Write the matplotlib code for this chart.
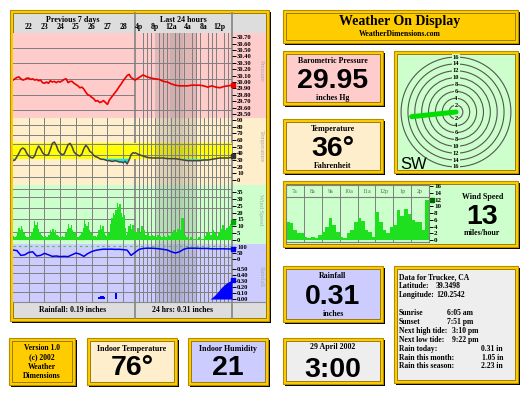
import matplotlib
matplotlib.use('Agg')
import matplotlib.pyplot as plt
from matplotlib.patches import Rectangle, Circle
import numpy as np

plt.rcParams['font.family'] = ['Liberation Serif', 'DejaVu Serif']
plt.rcParams['font.weight'] = 'bold'

W, H = 527, 395
SANS = 'Liberation Sans'

# ---------------- data ----------------
# previous 7 days, x = day of April 2002
days_3h = np.arange(21.0, 28.76, 0.125)
days_2h = np.arange(21.0, 28.7, 1 / 12)
days_6h = np.arange(21.0, 28.76, 0.25)
day_labels = [22, 23, 24, 25, 26, 27, 28]

pressure_7d = [30.03, 30.05, 30.07, 30.08, 30.05, 30.03, 30.04, 30.06,
               30.06, 30.04, 30.05, 30.03, 30.04, 30.02, 30.03, 29.99,
               29.98, 30.00, 29.98, 30.02, 30.00, 30.01, 29.99, 30.01,
               30.00, 30.02, 30.04, 30.05, 29.99, 30.01, 30.01, 29.98,
               29.96, 29.94, 29.91, 29.92, 29.89, 29.84, 29.80, 29.79,
               29.76, 29.74, 29.70, 29.71, 29.68, 29.69, 29.71, 29.68,
               29.65, 29.72, 29.76, 29.80, 29.84, 29.88, 29.93, 29.97,
               30.02, 30.06, 30.10, 30.12, 30.07, 30.05, 30.03]
temp_7d = [29, 30, 35, 40, 46, 48, 46, 40,
           36, 34, 33, 36, 45, 51, 47, 41,
           38, 37, 38, 46, 55, 57, 52, 44,
           40, 38, 39, 46, 53, 55, 50, 42,
           39, 37, 36, 39, 47, 52, 49, 43,
           41, 37, 35, 34, 32, 31, 31, 30,
           29, 29, 28, 28, 29, 28, 27, 27,
           26, 28, 24, 30, 38, 41, 40]
wind_7d = [3, 2, 3, 6, 9, 7, 10, 8, 5, 3, 2, 2,
           2, 3, 6, 9, 14, 11, 13, 8, 6, 4, 3, 2,
           3, 2, 2, 4, 7, 5, 8, 6, 7, 4, 3, 2,
           2, 3, 2, 2, 5, 8, 12, 9, 11, 7, 5, 6,
           3, 2, 3, 4, 6, 9, 15, 12, 10, 13, 7, 5,
           4, 3, 3, 2, 4, 7, 11, 8, 10, 6, 4, 3,
           5, 5, 12, 16, 20, 18, 22, 27, 24, 26, 20, 17,
           18, 9, 4, 6, 10, 12, 8, 11, 6]
humidity_7d = [75, 70, 30, 35, 55, 60, 25, 30, 47, 35, 22, 25, 20, 22, 20, 35,
               50, 40, 22, 45, 62, 72, 78, 82, 81, 82, 80, 81, 78, 74, 30, 55]
rain_7d_days = [26.375, 26.5, 26.625, 26.75, 27.5]
rain_7d = [0.04, 0.05, 0.05, 0.04, 0.10]

# last 24 hours, x = hours since 3 pm yesterday
hours_24 = np.arange(0, 25)
hours_half = np.arange(0, 24, 0.5)
hour_ticks = [1, 5, 9, 13, 17, 21]
hour_labels = ['4p', '8p', '12a', '4a', '8a', '12p']
sunset_h, sunrise_h = 4.85, 15.08

pressure_24h = [30.03, 30.07, 30.11, 30.08, 30.06, 30.05, 30.04, 30.01, 30.00,
                29.97, 29.95, 29.94, 29.94, 29.94, 29.95, 29.95, 29.95, 29.94,
                29.92, 29.94, 29.92, 29.91, 29.93, 29.94, 29.95]
temp_24h = [41, 38, 36, 34, 33, 33, 33, 33, 32, 32, 32, 31, 30, 29, 29, 29,
            29, 30, 30, 31, 32, 33, 33, 33, 34]
wind_24h = [6, 9, 5, 10, 7, 4, 5, 3, 4, 3, 2, 4, 3, 2, 3, 2, 4, 3,
            5, 7, 6, 8, 7, 16, 4, 2, 1, 2, 1, 1, 1, 2, 1, 1, 3, 5,
            6, 4, 7, 5, 3, 6, 8, 11, 7, 9, 10, 12]
humidity_24h = [55, 80, 88, 90, 90, 88, 85, 80, 75, 60, 50, 60, 80, 90, 90,
                90, 88, 88, 88, 85, 85, 85, 85, 84, 83]
rain_24h_hours = [18.5, 19, 19.5, 20, 20.5, 21, 21.5, 22, 22.5, 23, 23.5, 24]
rain_24h = [0, 0.02, 0.05, 0.08, 0.12, 0.16, 0.20, 0.23, 0.26, 0.28, 0.30, 0.31]

# last 8 hours of wind speed (small chart)
hours_8 = np.arange(0, 8, 0.2)
hour_labels_8 = ['7a', '8a', '9a', '10a', '11a', '12p', '1p', '2p']
wind_8h = [5.4, 5.0, 3, 2, 2, 1, 0.5, 0.8, 0.5, 1.5,
           2.5, 4, 6.5, 4.5, 2.5, 1, 0.5, 2, 3, 5.4,
           6.5, 5.5, 3, 2.5, 1, 8.3, 5.4, 3, 2, 4,
           4.5, 9, 7, 9.3, 7.7, 6, 5.4, 5.2, 3, 12]

# current readings
now_pressure = 29.95
now_temp = 36
now_wind = 13
now_humidity = 83
now_rain = 0.31
wind_angle = 186          # direction of the dial needle, degrees ccw from east
wind_compass = 'SW'
dial_rings = [2, 4, 6, 8, 10, 12, 14, 16]

info_rows = [('Data for Truckee, CA', '', 0, 'left'),
             ('Latitude:', '39.3498', 436, 'left'),
             ('Longitude:', '120.2542', 436, 'left'),
             ('', '', 0, 'left'),
             ('Sunrise', '6:05 am', 447, 'left'),
             ('Sunset', '7:51 pm', 447, 'left'),
             ('Next high tide:', '3:10 pm', 452, 'left'),
             ('Next low tide:', '9:22 pm', 452, 'left'),
             ('Rain today:', '0.31 in', 503, 'right'),
             ('Rain this month:', '1.05 in', 503, 'right'),
             ('Rain this season:', '2.23 in', 503, 'right')]

# ---------------- colours ----------------
GOLD = '#ffcc00'
PINK, BEIGE, GREEN, LAV = '#ffcccc', '#ffeecc', '#ccffcc', '#ccccff'
LIGHT = '#eeeeee'
GRID = '#7f7f7f'

fig = plt.figure(figsize=(W / 100, H / 100), dpi=100)
bg = fig.add_axes([0, 0, 1, 1])
bg.set_xlim(0, W)
bg.set_ylim(H, 0)
bg.axis('off')


def px_axes(x, y, w, h):
    return fig.add_axes([x / W, 1 - (y + h) / H, w / W, h / H])


def panel(x, y, w, h, face):
    bg.add_patch(Rectangle((x + 2, y + 2), w, h, color='black', lw=0))
    bg.add_patch(Rectangle((x, y), w, h, facecolor=GOLD, edgecolor='#b38f00', lw=0.8))
    bg.add_patch(Rectangle((x + 3, y + 3), w - 6, h - 6, facecolor=face,
                           edgecolor='#8a6d00', lw=0.6))


def label(x, y, s, size=5.7, ha='center', **kw):
    bg.text(x, y, s, ha=ha, va='center', fontsize=size, **kw)


def big(x, y, s, size=20.5):
    bg.text(x, y, s, ha='center', va='baseline', fontsize=size,
            family=SANS, weight='bold')


def chart_style(ax, xlim, ylim, xgrid, ygrid):
    ax.set_xlim(*xlim)
    ax.set_ylim(*ylim)
    ax.set_facecolor('none')
    for s in ax.spines.values():
        s.set_visible(False)
    ax.set_xticks(xgrid, minor=True)
    ax.set_yticks(ygrid, minor=True)
    ax.set_xticks([])
    ax.set_yticks([])
    ax.grid(True, which='minor', color=GRID, lw=0.7)
    ax.tick_params(which='minor', length=0)
    ax.set_axisbelow(True)


# ---------------- main history panel ----------------
panel(10, 10, 259, 311, '#dddddd')

sections = [
    ('Pressure', 33, 118, (29.4375, 30.766), PINK, [29.56, 29.80, 30.05, 30.29, 30.53],
     [round(29.5 + 0.1 * i, 2) for i in range(13)], '{:.2f}', now_pressure, '#ee0000'),
    ('Temperature', 118, 185, (-7.5, 93.0), BEIGE, [4, 22, 38, 54, 68, 83],
     list(range(0, 91, 10)), '{}', now_temp, '#333333'),
    ('Wind Speed', 185, 244, (-2.9, 40.1), GREEN, [6, 15, 23, 31, 37],
     list(range(0, 36, 5)), '{}', now_wind, '#00aa00'),
    ('', 244, 262, (-25, 125), LAV, [17], [0, 50, 100], '{}', now_humidity, '#0000ee'),
    ('Rainfall', 262, 302, (-0.05, 0.617), LAV, [0.12, 0.27, 0.43, 0.57],
     [0, 0.1, 0.2, 0.3, 0.4, 0.5], '{:.2f}', now_rain, '#0000ee'),
]

X_L, X_M, X_R = 13, 135, 232
axes_l, axes_r = [], []
for name, top, bot, ylim, color, ygrid, ticks, fmt, now, mcol in sections:
    bg.add_patch(Rectangle((13, top), 253, bot - top, color=color, lw=0))
    al = px_axes(X_L, top, X_M - X_L, bot - top)
    ar = px_axes(X_M, top, X_R - X_M, bot - top)
    chart_style(al, (21, 28.75), ylim, day_labels, ygrid)
    chart_style(ar, (0, 24), ylim, range(1, 24), ygrid)
    ar.axvspan(sunset_h, sunrise_h, color='#6f6f6f', alpha=0.22, lw=0, zorder=0.4)
    ar.axvspan(8.7, 11.9, color='#6f6f6f', alpha=0.12, lw=0, zorder=0.4)
    ar.yaxis.tick_right()
    ar.set_yticks(ticks, [fmt.format(t) for t in ticks])
    ar.tick_params(axis='y', which='major', right=True, left=False, length=3,
                   width=0.7, pad=0.6, labelsize=4.7)
    ar.plot([24.35], [now], marker='s', ms=2.4, color=mcol, clip_on=False, zorder=5)
    if name:
        mid = (top + bot) / 2 - 5
        bg.text(261, mid, name, rotation=-90, ha='center', va='center',
                fontsize=4.6, color='#a8a8a8', weight='normal')
    axes_l.append(al)
    axes_r.append(ar)

# header / footer
for xx in (X_M, X_R):
    bg.plot([xx, xx], [13, 318], color='#8a8a8a', lw=1.3)
bg.plot([13, 266], [302, 302], color='#8a8a8a', lw=0.8)
label(73, 20, 'Previous 7 days', size=5.8)
label(183, 20, 'Last 24 hours', size=5.8)
label(73, 310, 'Rainfall: 0.19 inches', size=5.6)
label(183, 310, '24 hrs: 0.31 inches', size=5.6)

axes_l[0].set_xticks(day_labels, [str(d) for d in day_labels])
axes_l[0].tick_params(axis='x', which='major', top=True, labeltop=True, bottom=False,
                      labelbottom=False, length=0, pad=1.6, labelsize=5.6)
axes_r[0].set_xticks(hour_ticks, hour_labels)
axes_r[0].tick_params(axis='x', which='major', top=True, labeltop=True, bottom=False,
                      labelbottom=False, length=0, pad=1.6, labelsize=5.6)

# pressure
axes_l[0].plot(days_3h, pressure_7d, color='#ee0000', lw=1.2, zorder=2)
axes_r[0].plot(hours_24, pressure_24h, color='#ee0000', lw=1.2, zorder=2)

# temperature
for ax, xs, ys in ((axes_l[1], days_3h, temp_7d), (axes_r[1], hours_24, temp_24h)):
    ys = np.array(ys)
    ax.axhspan(32, 56, color='#ffff00', lw=0, zorder=0.2)
    ax.fill_between(xs, ys, 32, where=ys < 32, interpolate=True,
                    color='#22dde8', lw=0, zorder=1.5)
    ax.plot(xs, ys, color='#444444', lw=1.1, zorder=2)

# wind
axes_l[2].bar(days_2h, wind_7d, width=1 / 12, align='edge', color='#1ee01e', lw=0, zorder=1.5)
axes_r[2].bar(hours_half, wind_24h, width=0.5, align='edge', color='#1ee01e', lw=0, zorder=1.5)

# humidity
axes_l[3].plot(days_6h, humidity_7d, color='#0000ee', lw=1.1, zorder=2)
axes_r[3].plot(hours_24, humidity_24h, color='#0000ee', lw=1.1, zorder=2)
for ax in (axes_l[3], axes_r[3]):
    ax.axhline(108, color='#33cc33', lw=0.8, ls=(0, (2, 3)), zorder=1.8)

# rain
axes_l[4].bar(rain_7d_days, rain_7d, width=0.125, align='edge', color='#0000ff', lw=0, zorder=1.5)
axes_r[4].fill_between(rain_24h_hours, rain_24h, 0, color='#0000ff', lw=0, zorder=1.5)

# ---------------- right hand boxes ----------------
panel(283, 10, 235, 33, GOLD)
label(400, 22, 'Weather On Display', size=10)
label(400, 34, 'WeatherDimensions.com', size=5.6)

panel(283, 51, 100, 54, PINK)
label(333, 61, 'Barometric Pressure')
big(333, 87.5, f'{now_pressure:.2f}')
label(333, 97.5, 'inches Hg')

panel(283, 119, 100, 54, BEIGE)
label(333, 129, 'Temperature')
big(333, 156.5, f'{now_temp}°')
label(333, 166, 'Fahrenheit')

# wind dial
panel(394, 51, 124, 122, GREEN)
dial = px_axes(398, 54, 116, 116)
dial.set_xlim(-16.9, 16.9)
dial.set_ylim(-16.9, 16.9)
dial.set_aspect('equal')
dial.axis('off')
for r in dial_rings:
    dial.add_patch(Circle((0, 0), r, fill=False, ec='#555555', lw=0.8))
    for sgn in (1, -1):
        dial.text(0, sgn * r, str(r), ha='center', va='center', fontsize=4.6,
                  bbox=dict(boxstyle='square,pad=0.05', fc=GREEN, ec='none'))
ang = np.deg2rad(wind_angle)
dial.plot([0, now_wind * np.cos(ang)], [0, now_wind * np.sin(ang)],
          color='#00dd00', lw=3.6, solid_capstyle='round', zorder=4)
bg.text(400, 169, wind_compass, ha='left', va='baseline', fontsize=12,
        family=SANS, weight='normal')

# wind speed box with small chart
panel(283, 181, 235, 66, GREEN)
sw = px_axes(286, 185, 143, 57)
sw.set_xlim(0, 8)
sw.set_ylim(-0.59, 16.3)
sw.set_facecolor('none')
for s in sw.spines.values():
    s.set_color(GRID)
    s.set_linewidth(0.8)
sw.set_xticks(range(1, 8), minor=True)
sw.set_yticks([2, 4, 6, 8, 10], minor=True)
sw.set_xticks([])
sw.grid(True, which='minor', color=GRID, lw=0.7)
sw.set_axisbelow(True)
sw.axhline(12.74, color=GRID, lw=0.8)
sw.bar(hours_8, wind_8h, width=0.2, align='edge', color='#1ee01e', lw=0, zorder=1.5)
sw.plot([8.15], [wind_8h[-1]], marker='s', ms=2.4, color='#006600', clip_on=False)
for i, lab in enumerate(hour_labels_8):
    sw.text(i + 0.5, 14.5, lab, ha='center', va='center', fontsize=4.3,
            color='#666666', weight='normal')
sw.yaxis.tick_right()
sw.set_yticks(range(0, 17, 2))
sw.tick_params(axis='y', which='major', right=True, left=False, length=3,
               width=0.7, pad=0.6, labelsize=5)
sw.tick_params(which='minor', length=0)
label(483, 197, 'Wind Speed')
big(482, 224, f'{now_wind}')
label(482, 233, 'miles/hour')

panel(283, 266, 100, 56, LAV)
label(333, 276, 'Rainfall')
big(333, 303.5, f'{now_rain:.2f}')
label(333, 313.5, 'inches')

panel(394, 266, 124, 117, LIGHT)
for i, (lab, val, vx, ha) in enumerate(info_rows):
    yy = 277 + i * 8.95
    if lab:
        label(399, yy, lab, size=5.5, ha='left')
    if val:
        label(vx, yy, val, size=5.5, ha=ha)

panel(283, 338, 100, 46, LIGHT)
label(333, 347, '29 April 2002')
big(333, 377, '3:00')

# ---------------- bottom left boxes ----------------
panel(9, 338, 66, 47, GOLD)
for i, line in enumerate(['Version 1.0', '(c) 2002', 'Weather', 'Dimensions']):
    label(42, 348 + i * 9.3, line, size=5.5)

panel(87, 338, 90, 47, BEIGE)
label(132, 349, 'Indoor Temperature')
big(132, 375, '76°')

panel(188, 338, 80, 47, LAV)
label(228, 349, 'Indoor Humidity')
big(228, 375, '21')

fig.savefig('out.png', dpi=100)
